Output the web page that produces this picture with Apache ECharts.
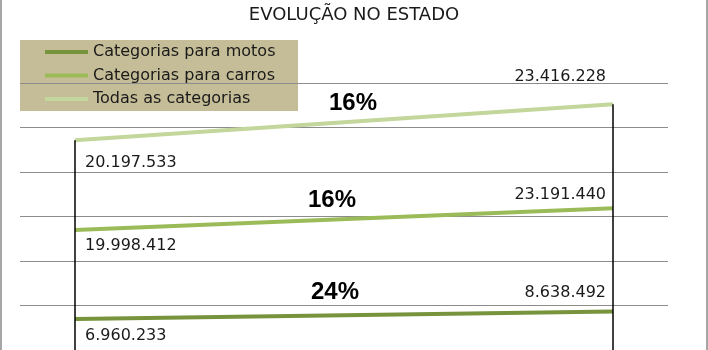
<!DOCTYPE html>
<html>
<head>
<meta charset="utf-8">
<script src="https://cdn.jsdelivr.net/npm/echarts@6/dist/echarts.min.js"></script>
<style>
  html, body { margin: 0; padding: 0; background: #ffffff; }
  #chart { width: 708px; height: 350px; }
</style>
</head>
<body>
<div id="chart"></div>
<script>
// Frotas registradas no estado: início e fim do período
const periodos = ['inicial', 'final'];
const nomesSeries = ['Categorias para motos', 'Categorias para carros', 'Todas as categorias'];
const motos = [6960233, 8638492];
const carros = [19998412, 23191440];
const todas = [20197533, 23416228];
const eixoY = { min: 0, max: 60000000, intervalo: 10000000 };

const valores = [motos, carros, todas];
const cores = ['#77933C', '#9BBB59', '#C3D69B'];

// número com separador de milhar "."
function fmt(n) {
  return String(n).replace(/\B(?=(\d{3})+(?!\d))/g, '.');
}

// totais empilhados (cada série desenhada sobre a anterior)
const empilhado = [];
valores.forEach(function (arr, s) {
  empilhado.push(arr.map(function (v, i) { return v + (s > 0 ? empilhado[s - 1][i] : 0); }));
});

// crescimento percentual de cada série
const crescimento = valores.map(function (arr) {
  return Math.round((arr[arr.length - 1] / arr[0] - 1) * 100) + '%';
});

const fonteTexto = 'DejaVu Sans';
const corTexto = '#1a1a1a';

// deslocamentos dos rótulos de valor: [início, fim] por série
const deslocInicio = [[10, 17], [10, 16], [10, 23]];
const deslocFim = [[-7, -19], [-7, -14], [-7, -27]];
const deslocPct = [[-9, -23], [-12, -19], [9, -19]];

const seriesLinhas = valores.map(function (arr, s) {
  return {
    name: nomesSeries[s],
    type: 'line',
    color: cores[s],
    symbol: 'circle',
    symbolSize: 0,
    lineStyle: { width: 4, color: cores[s] },
    itemStyle: { color: cores[s] },
    z: 3,
    data: arr.map(function (v, i) {
      const primeiro = i === 0;
      return {
        value: [i, empilhado[s][i]],
        label: {
          show: true,
          position: 'inside',
          align: primeiro ? 'left' : 'right',
          verticalAlign: 'middle',
          offset: primeiro ? deslocInicio[s] : deslocFim[s],
          fontFamily: fonteTexto,
          fontSize: 16,
          color: corTexto,
          formatter: fmt(v)
        }
      };
    })
  };
});

const ultimo = periodos.length - 1;
const topo = empilhado[empilhado.length - 1];

const seriePct = {
  name: 'crescimento',
  type: 'scatter',
  symbolSize: 0,
  silent: true,
  itemStyle: { opacity: 1 },
  z: 4,
  data: empilhado.map(function (arr, s) {
    return {
      value: [ultimo / 2, (arr[0] + arr[ultimo]) / 2],
      label: {
        show: true,
        position: 'inside',
        align: 'center',
        verticalAlign: 'middle',
        offset: deslocPct[s],
        fontFamily: 'Liberation Sans',
        fontWeight: 'bold',
        fontSize: 24,
        color: '#000000',
        formatter: crescimento[s]
      }
    };
  }),
  // linhas de queda do ponto mais alto até o eixo
  markLine: {
    silent: true,
    symbol: 'none',
    label: { show: false },
    lineStyle: { color: '#000000', width: 1.5, type: 'solid', opacity: 1 },
    data: periodos.map(function (_, i) {
      return [{ coord: [i, topo[i]] }, { coord: [i, eixoY.min] }];
    })
  }
};

const PAD = 55 / 538;

const chart = echarts.init(document.getElementById('chart'), null, { renderer: 'canvas' });
chart.setOption({
  animation: false,
  backgroundColor: '#ffffff',
  title: {
    text: 'EVOLUÇÃO NO ESTADO',
    left: 'center',
    top: 6,
    padding: 0,
    textStyle: { fontFamily: fonteTexto, fontSize: 18, fontWeight: 'normal', color: corTexto }
  },
  graphic: [
    { type: 'rect', z: 0, shape: { x: 20, y: 40, width: 278, height: 71 }, style: { fill: '#C4BD97' } },
    { type: 'line', z: 10, shape: { x1: 1, y1: 0, x2: 1, y2: 350 }, style: { stroke: '#A6A6A6', lineWidth: 2 } },
    { type: 'line', z: 10, shape: { x1: 707, y1: 0, x2: 707, y2: 350 }, style: { stroke: '#A6A6A6', lineWidth: 2 } }
  ],
  legend: {
    orient: 'vertical',
    left: 45,
    top: 42,
    padding: 0,
    icon: 'rect',
    itemWidth: 43,
    itemHeight: 4,
    itemGap: 3.5,
    z: 5,
    data: nomesSeries,
    textStyle: { fontFamily: fonteTexto, fontSize: 16, lineHeight: 20, color: corTexto }
  },
  grid: { left: 20, right: 40, top: 83, bottom: 0, containLabel: false },
  xAxis: {
    type: 'value',
    min: function (v) { return v.min - PAD * (v.max - v.min); },
    max: function (v) { return v.max + PAD * (v.max - v.min); },
    show: false
  },
  yAxis: {
    type: 'value',
    min: eixoY.min,
    max: eixoY.max,
    interval: eixoY.intervalo,
    axisLine: { show: false },
    axisTick: { show: false },
    axisLabel: { show: false },
    splitLine: { show: true, lineStyle: { color: '#8C8C8C', width: 1 } }
  },
  series: seriesLinhas.concat([seriePct])
});
</script>
</body>
</html>
